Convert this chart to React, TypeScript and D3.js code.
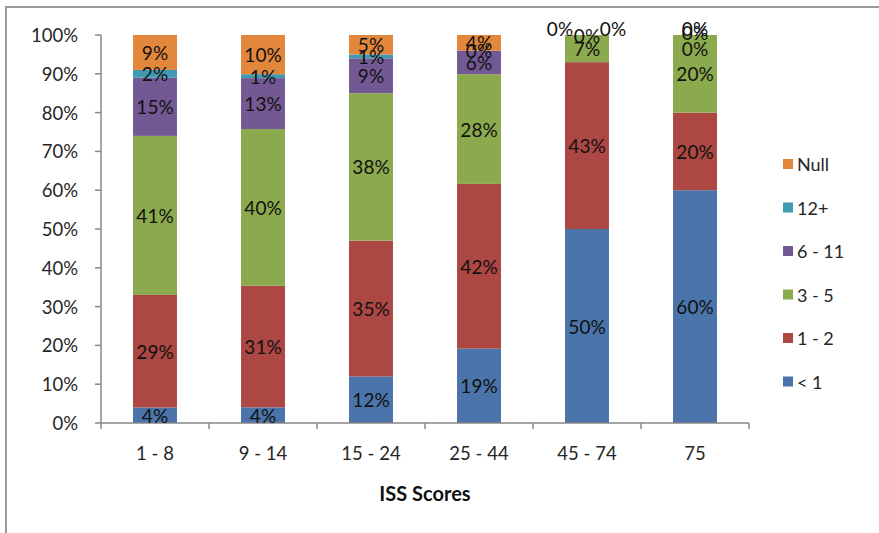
import React from "react";
import * as d3 from "d3";

const categories = ["1 - 8", "9 - 14", "15 - 24", "25 - 44", "45 - 74", "75"];
const seriesNames = ["< 1", "1 - 2", "3 - 5", "6 - 11", "12+", "Null"];
const lt1 = [4, 4, 12, 19, 50, 60];
const s1to2 = [29, 31, 35, 42, 43, 20];
const s3to5 = [41, 40, 38, 28, 7, 20];
const s6to11 = [15, 13, 9, 6, 0, 0];
const s12plus = [2, 1, 1, 0, 0, 0];
const sNull = [9, 10, 5, 4, 0, 0];
const yTicks = [0, 0.1, 0.2, 0.3, 0.4, 0.5, 0.6, 0.7, 0.8, 0.9, 1];
const xTitle = "ISS Scores";

const colors: Record<string, string> = {
  "< 1": "#4A74AA",
  "1 - 2": "#AC4744",
  "3 - 5": "#8BAA4E",
  "6 - 11": "#735993",
  "12+": "#409AB2",
  "Null": "#E2863C",
};

// label nudges (pixels) for overlapping zero-value labels
const labelNudges: Record<string, [number, number]> = {
  "45 - 74|12+": [-27, -7],
  "45 - 74|Null": [26, -7],
  "75|6 - 11": [0, 13],
  "75|12+": [0, -3],
  "75|Null": [0, -7],
};

const font = "Lato, 'Open Sans', sans-serif";

export default function App() {
  const W = 879, H = 533;
  const left = 101, right = 749, top = 35, bottom = 423;
  const seriesVals = [lt1, s1to2, s3to5, s6to11, s12plus, sNull];
  const rows = categories.map((c, i) => {
    const r: any = { cat: c };
    seriesNames.forEach((s, j) => (r[s] = seriesVals[j][i]));
    return r;
  });
  const stack = d3.stack<any>().keys(seriesNames).offset(d3.stackOffsetExpand);
  const layers = stack(rows);
  const x = d3.scaleBand<string>().domain(categories).range([left, right]).paddingInner(0.593).paddingOuter(0.2965);
  const y = d3.scaleLinear().domain([0, 1]).range([bottom, top]);
  const step = x.step();
  const axisColor = "#878787";

  return (
    <svg width={W} height={H} style={{ position: "absolute", left: 0, top: 0, background: "#fff" }}>
      <rect x={6} y={7} width={W + 20} height={H + 20} fill="#fff" stroke="#9a9a9a" strokeWidth={2} />
      {/* bars */}
      {layers.map((layer) => (
        <g key={layer.key}>
          {layer.map((d, i) => (
            <rect
              key={i}
              x={x(categories[i])}
              width={x.bandwidth()}
              y={y(d[1])}
              height={Math.max(0, y(d[0]) - y(d[1]))}
              fill={colors[layer.key]}
            />
          ))}
        </g>
      ))}
      {/* axes */}
      <line x1={left} x2={left} y1={top} y2={bottom} stroke={axisColor} strokeWidth={1.5} />
      <line x1={left} x2={right} y1={bottom} y2={bottom} stroke={axisColor} strokeWidth={1.5} />
      {yTicks.map((t) => (
        <g key={t}>
          <line x1={left - 6} x2={left} y1={y(t)} y2={y(t)} stroke={axisColor} strokeWidth={1.5} />
          <text x={78} y={y(t)} textAnchor="end" dominantBaseline="central" fontFamily={font} fontSize={18.5} fill="#262626">
            {d3.format(".0%")(t)}
          </text>
        </g>
      ))}
      {d3.range(categories.length + 1).map((k) => (
        <line key={k} x1={left + k * step} x2={left + k * step} y1={bottom} y2={bottom + 6} stroke={axisColor} strokeWidth={1.5} />
      ))}
      {categories.map((c) => (
        <text key={c} x={x(c)! + x.bandwidth() / 2} y={453} textAnchor="middle" dominantBaseline="central" fontFamily={font} fontSize={18.5} fill="#262626">
          {c}
        </text>
      ))}
      <text x={(left + right) / 2} y={493} textAnchor="middle" dominantBaseline="central" fontFamily={font} fontSize={20} fontWeight="bold" fill="#111">
        {xTitle}
      </text>
      {/* data labels */}
      {layers.map((layer) =>
        layer.map((d, i) => {
          const c = categories[i];
          const nudge = labelNudges[`${c}|${layer.key}`] || [0, 0];
          const v = (d.data as any)[layer.key];
          return (
            <text
              key={layer.key + i}
              x={x(c)! + x.bandwidth() / 2 + nudge[0]}
              y={(y(d[0]) + y(d[1])) / 2 + nudge[1]}
              textAnchor="middle"
              dominantBaseline="central"
              fontFamily={font}
              fontSize={19}
              fill="#111"
            >
              {v}%
            </text>
          );
        })
      )}
      {/* legend */}
      {[...seriesNames].reverse().map((s, i) => (
        <g key={s} transform={`translate(783, ${164 + i * 43.5})`}>
          <rect x={0} y={-5} width={10} height={10} fill={colors[s]} />
          <text x={14} y={0} dominantBaseline="central" fontFamily={font} fontSize={18} fill="#262626">
            {s}
          </text>
        </g>
      ))}
    </svg>
  );
}
